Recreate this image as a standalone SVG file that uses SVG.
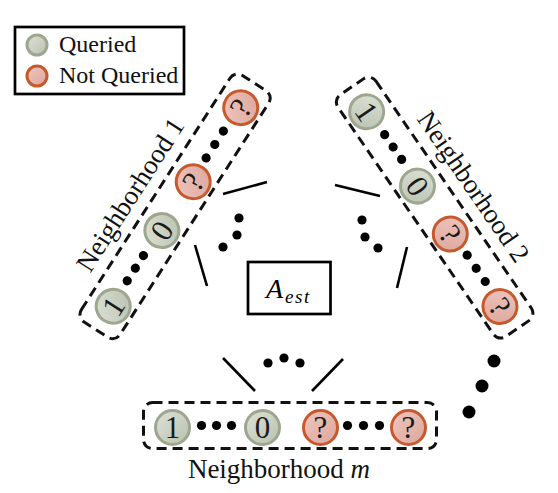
<svg xmlns="http://www.w3.org/2000/svg" width="558" height="493" viewBox="0 0 558 493">
<defs>
<style>
.q{fill:url(#gq);stroke:#9da78f;stroke-width:3}
.n{fill:url(#gn);stroke:#c65a2e;stroke-width:3}
.d{font-family:"Liberation Serif","Times New Roman",serif;font-size:31px;text-anchor:middle;fill:#1a1a1a}
.lab{font-family:"Liberation Serif","Times New Roman",serif;font-size:27px;text-anchor:middle;fill:#111}
.leg{font-family:"Liberation Serif","Times New Roman",serif;font-size:24px;fill:#111}
.dash{fill:none;stroke:#111;stroke-width:3;stroke-dasharray:10 6}
.box{fill:#fff;stroke:#000;stroke-width:2.7}
.sp{stroke:#000;stroke-width:2.6;fill:none}
.dot{fill:#000}
</style>
<linearGradient id="gq" x1="0" y1="0" x2="1" y2="1">
<stop offset="0" stop-color="#dde2d6"/>
<stop offset="1" stop-color="#b9c1b0"/>
</linearGradient>
<linearGradient id="gn" x1="0" y1="0" x2="1" y2="1">
<stop offset="0" stop-color="#efc6bf"/>
<stop offset="1" stop-color="#dca69c"/>
</linearGradient>
</defs>
<rect width="558" height="493" fill="#fff"/>

<g id="legend">
<rect class="box" x="15" y="27" width="169" height="67"/>
<circle class="q" cx="37" cy="45" r="10"/>
<text class="leg" x="59" y="52">Queried</text>
<circle class="n" cx="37" cy="76" r="10"/>
<text class="leg" x="59" y="83">Not Queried</text>
</g>

<g id="connectors">
<line class="sp" x1="223" y1="194" x2="267" y2="182"/>
<line class="sp" x1="195" y1="245" x2="207" y2="286"/>
<line class="sp" x1="335" y1="185" x2="380" y2="196"/>
<line class="sp" x1="407" y1="247" x2="397" y2="288"/>
<line class="sp" x1="223" y1="358" x2="255" y2="391"/>
<line class="sp" x1="343" y1="359" x2="312" y2="391"/>
<circle class="dot" cx="239" cy="218" r="4.6"/>
<circle class="dot" cx="237" cy="235" r="4.6"/>
<circle class="dot" cx="223" cy="247" r="4.6"/>
<circle class="dot" cx="362" cy="220" r="4.6"/>
<circle class="dot" cx="365" cy="237" r="4.6"/>
<circle class="dot" cx="378" cy="248" r="4.6"/>
<circle class="dot" cx="268" cy="363" r="4.6"/>
<circle class="dot" cx="284" cy="358" r="4.6"/>
<circle class="dot" cx="300" cy="363" r="4.6"/>
<circle class="dot" cx="494" cy="361" r="6.5"/>
<circle class="dot" cx="482" cy="386" r="6.5"/>
<circle class="dot" cx="469" cy="412" r="6.5"/>
</g>

<g id="aest">
<rect class="box" x="248" y="262" width="82.5" height="52"/>
<text x="266" y="298" font-family="Liberation Serif, Times New Roman, serif" font-style="italic" font-size="28" fill="#000">A<tspan dx="2" dy="5" font-size="19" letter-spacing="1.5">est</tspan></text>
</g>

<g id="nbhd1" transform="translate(177,207) rotate(-57.3)">
<rect class="dash" x="-147" y="-25" width="293" height="46" rx="9"/>
<circle class="q" cx="-118" cy="0" r="17"/><text class="d" x="-118" y="10.5">1</text>
<circle class="dot" cx="-89" cy="-2" r="4.6"/><circle class="dot" cx="-74" cy="-2" r="4.6"/><circle class="dot" cx="-59" cy="-2" r="4.6"/>
<circle class="q" cx="-28" cy="0" r="17"/><text class="d" x="-28" y="10.5">0</text>
<circle class="n" cx="30" cy="0" r="17"/><text class="d" x="30" y="10.5">?</text>
<circle class="dot" cx="57" cy="-2" r="4.6"/><circle class="dot" cx="73" cy="-2" r="4.6"/><circle class="dot" cx="89" cy="-2" r="4.6"/>
<circle class="n" cx="118" cy="0" r="17"/><text class="d" x="118" y="10.5">?</text>
<text class="lab" x="-15" y="-37">Neighborhood 1</text>
</g>

<g id="nbhd2" transform="translate(433.3,209.2) rotate(55.6)">
<rect class="dash" x="-147" y="-25" width="293" height="46" rx="9"/>
<circle class="q" cx="-118" cy="0" r="17"/><text class="d" x="-118" y="10.5">1</text>
<circle class="dot" cx="-89" cy="-2" r="4.6"/><circle class="dot" cx="-74" cy="-2" r="4.6"/><circle class="dot" cx="-59" cy="-2" r="4.6"/>
<circle class="q" cx="-28" cy="0" r="17"/><text class="d" x="-28" y="10.5">0</text>
<circle class="n" cx="30" cy="0" r="17"/><text class="d" x="30" y="10.5">?</text>
<circle class="dot" cx="57" cy="-2" r="4.6"/><circle class="dot" cx="73" cy="-2" r="4.6"/><circle class="dot" cx="89" cy="-2" r="4.6"/>
<circle class="n" cx="118" cy="0" r="17"/><text class="d" x="118" y="10.5">?</text>
<text class="lab" x="4" y="-37">Neighborhood 2</text>
</g>

<g id="nbhdm" transform="translate(290.5,427.5)">
<rect class="dash" x="-147" y="-25" width="293" height="46" rx="9"/>
<circle class="q" cx="-118" cy="0" r="17"/><text class="d" x="-118" y="10.5">1</text>
<circle class="dot" cx="-89" cy="-2" r="4.6"/><circle class="dot" cx="-74" cy="-2" r="4.6"/><circle class="dot" cx="-59" cy="-2" r="4.6"/>
<circle class="q" cx="-28" cy="0" r="17"/><text class="d" x="-28" y="10.5">0</text>
<circle class="n" cx="30" cy="0" r="17"/><text class="d" x="30" y="10.5">?</text>
<circle class="dot" cx="57" cy="-2" r="4.6"/><circle class="dot" cx="73" cy="-2" r="4.6"/><circle class="dot" cx="89" cy="-2" r="4.6"/>
<circle class="n" cx="118" cy="0" r="17"/><text class="d" x="118" y="10.5">?</text>
<text class="lab" x="-11.5" y="50.5">Neighborhood <tspan font-style="italic">m</tspan></text>
</g>
</svg>
